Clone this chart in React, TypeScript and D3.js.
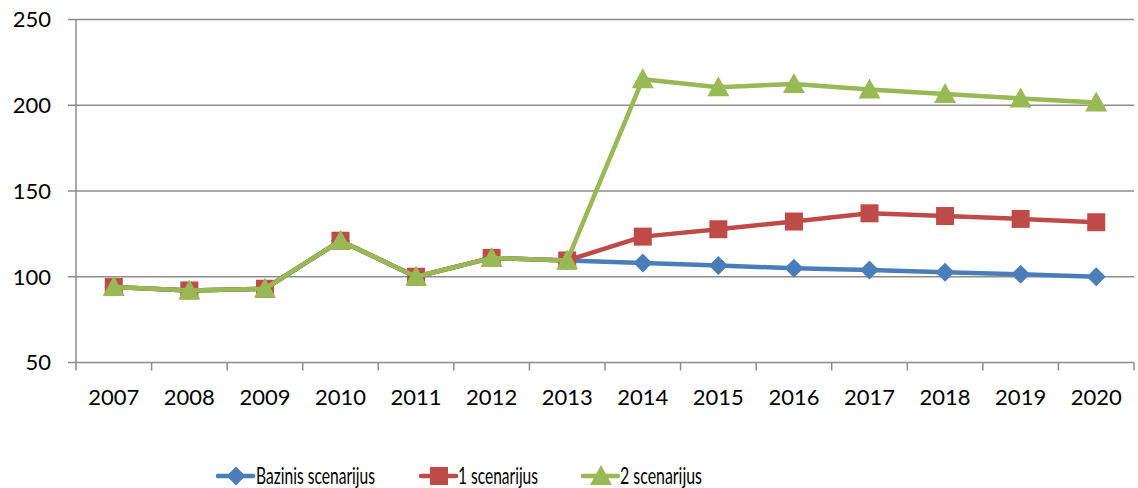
import React from "react";
import * as d3 from "d3";

const years = ["2007","2008","2009","2010","2011","2012","2013","2014","2015","2016","2017","2018","2019","2020"];
const bazinis = [94, 92, 93, 121, 100, 111, 109.5, 108, 106.5, 105, 104, 102.6, 101.4, 100];
const scen1 = [94, 92, 93, 121, 100, 111, 109.5, 123.4, 127.7, 132.2, 137, 135.4, 133.7, 131.8];
const scen2 = [94, 92, 93, 121, 100, 111, 109.5, 215.2, 210.5, 212.4, 209.2, 206.6, 204, 201.6];
const yTicks = [50, 100, 150, 200, 250];
const seriesNames = ["Bazinis scenarijus", "1 scenarijus", "2 scenarijus"];
const seriesColors = ["#4a7ebb", "#be4b48", "#98b954"];

const W = 1138, H = 488;
const FONT = "Lato, 'Open Sans', sans-serif";

function Marker({ kind, x, y, color }: { kind: number; x: number; y: number; color: string }) {
  if (kind === 0) {
    const s = 9.5;
    return <path d={`M${x},${y - s}L${x + s},${y}L${x},${y + s}L${x - s},${y}Z`} fill={color} />;
  }
  if (kind === 1) {
    const s = 9;
    return <rect x={x - s} y={y - s} width={2 * s} height={2 * s} fill={color} />;
  }
  const s = 10;
  return <path d={`M${x},${y - s - 1}L${x + s + 1},${y + s - 1}L${x - s - 1},${y + s - 1}Z`} fill={color} />;
}

export default function App() {
  const x = d3.scaleBand<string>().domain(years).range([76, 1134]);
  const y = d3.scaleLinear().domain([50, 250]).range([362.5, 19.5]);
  const cx = (yr: string) => (x(yr) as number) + x.bandwidth() / 2;
  const line = d3.line<number>().x((_, i) => cx(years[i])).y((d) => y(d));
  const data = [bazinis, scen1, scen2];
  const boundaries = years.map((yr) => x(yr) as number).concat([1134]);

  const legend = [
    { lx: 218, tx: 256, tw: 119 },
    { lx: 421, tx: 458, tw: 80 },
    { lx: 583, tx: 620, tw: 82 },
  ];
  const ly = 476;

  return (
    <svg width={W} height={H} style={{ position: "absolute", left: 0, top: 0, background: "#fff" }} fontFamily={FONT}>
      {yTicks.map((t) => (
        <g key={t}>
          <line x1={68} x2={1134} y1={y(t)} y2={y(t)} stroke="#8c8c8c" strokeWidth={1.5} />
          <text x={51} y={y(t)} dy="0.36em" textAnchor="end" fontSize={22} fill="#000">{t}</text>
        </g>
      ))}
      <line x1={76} x2={76} y1={y(250)} y2={y(50)} stroke="#8c8c8c" strokeWidth={1.5} />
      {boundaries.map((bx, i) => (
        <line key={i} x1={bx} x2={bx} y1={y(50)} y2={y(50) + 8} stroke="#8c8c8c" strokeWidth={1.5} />
      ))}
      {years.map((yr) => (
        <text key={yr} x={cx(yr)} y={405} textAnchor="middle" fontSize={22} fill="#000">{yr}</text>
      ))}
      {data.map((d, si) => (
        <g key={si}>
          <path d={line(d) as string} fill="none" stroke={seriesColors[si]} strokeWidth={4.5} strokeLinejoin="round" />
          {d.map((v, i) => (
            <Marker key={i} kind={si} x={cx(years[i])} y={y(v)} color={seriesColors[si]} />
          ))}
        </g>
      ))}
      {legend.map((l, i) => (
        <g key={i}>
          <line x1={l.lx} x2={l.lx + 35} y1={ly} y2={ly} stroke={seriesColors[i]} strokeWidth={4.5} strokeLinecap="round" />
          <Marker kind={i} x={l.lx + 18} y={ly} color={seriesColors[i]} />
          <text x={l.tx} y={ly} dy="0.36em" fontSize={22.5} fill="#000" textLength={l.tw} lengthAdjust="spacingAndGlyphs">{seriesNames[i]}</text>
        </g>
      ))}
    </svg>
  );
}
